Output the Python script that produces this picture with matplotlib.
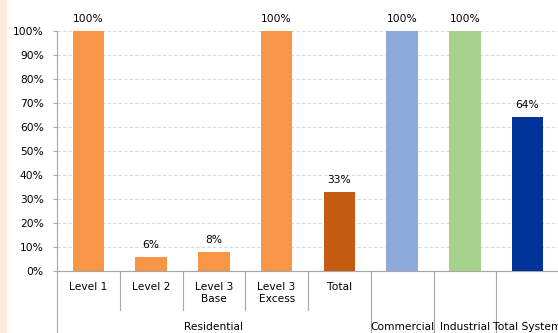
import matplotlib
matplotlib.use("Agg")
import matplotlib.pyplot as plt
from matplotlib.lines import Line2D
from matplotlib.patches import Rectangle
import matplotlib.transforms as mtransforms

# Data
level1_labels = ["Level 1", "Level 2", "Level 3\nBase", "Level 3\nExcess", "Total", "", "", ""]
group_labels = ["Residential", "Commercial", "Industrial", "Total System"]
group_spans = [(0, 4), (5, 5), (6, 6), (7, 7)]
values = [1.00, 0.06, 0.08, 1.00, 0.33, 1.00, 1.00, 0.64]
value_labels = ["100%", "6%", "8%", "100%", "33%", "100%", "100%", "64%"]
colors = ["#F79646", "#F79646", "#F79646", "#F79646", "#C55A11", "#8EA9DB", "#A9D18E", "#003399"]
yticks = [0, 0.1, 0.2, 0.3, 0.4, 0.5, 0.6, 0.7, 0.8, 0.9, 1.0]
ytick_labels = ["0%", "10%", "20%", "30%", "40%", "50%", "60%", "70%", "80%", "90%", "100%"]

W, H = 558, 333
fig = plt.figure(figsize=(W / 100, H / 100), dpi=100)
fig.patch.set_facecolor("white")
fig.patches.append(Rectangle((0, 0), 7 / W, 1, transform=fig.transFigure,
                             facecolor="#FDEADB", edgecolor="none", zorder=0))

ax_left, ax_right = 57 / W, 559 / W
ax_bottom, ax_top = (H - 271) / H, (H - 31) / H
ax = fig.add_axes([ax_left, ax_bottom, ax_right - ax_left, ax_top - ax_bottom])

fs = 7.7
x = list(range(len(values)))
ax.bar(x, values, width=0.5, color=colors, zorder=3)
for xi, v, lab in zip(x, values, value_labels):
    ax.annotate(lab, (xi, v), xytext=(0, 5), textcoords="offset points",
                ha="center", va="bottom", fontsize=fs, color="#000000")

ax.set_xlim(-0.5, len(values) - 0.5)
ax.set_ylim(0, 1.0)
ax.set_yticks(yticks)
ax.set_yticklabels(ytick_labels, fontsize=fs)
ax.tick_params(axis="y", length=3, color="#A6A6A6", pad=6.5)
ax.set_xticks([])
ax.grid(axis="y", color="#D9D9D9", linestyle=(0, (3, 2)), linewidth=0.8, zorder=0)
for s in ["top", "right"]:
    ax.spines[s].set_visible(False)
for s in ["left", "bottom"]:
    ax.spines[s].set_color("#A6A6A6")
    ax.spines[s].set_linewidth(0.8)

trans = mtransforms.blended_transform_factory(ax.transData, ax.transAxes)
px = 1 / 240.0

# first level labels
for xi, lab in zip(x, level1_labels):
    if lab:
        ax.text(xi, -11 * px, lab, transform=trans, ha="center", va="top",
                fontsize=fs, linespacing=1.3, clip_on=False)

# group labels
for lab, (a, b) in zip(group_labels, group_spans):
    ax.text((a + b) / 2, -61 * px, lab, transform=trans, ha="center", va="bottom",
            fontsize=fs, clip_on=False)

# dividers
short_bounds = [0.5, 1.5, 2.5, 3.5]
long_bounds = [-0.5, 4.5, 5.5, 6.5]
for bx in short_bounds:
    ax.add_line(Line2D([bx, bx], [0, -39 * px], transform=trans, color="#A6A6A6",
                       linewidth=0.8, clip_on=False))
for bx in long_bounds:
    ax.add_line(Line2D([bx, bx], [0, -65 * px], transform=trans, color="#A6A6A6",
                       linewidth=0.8, clip_on=False))

fig.savefig("out.png", dpi=100)
